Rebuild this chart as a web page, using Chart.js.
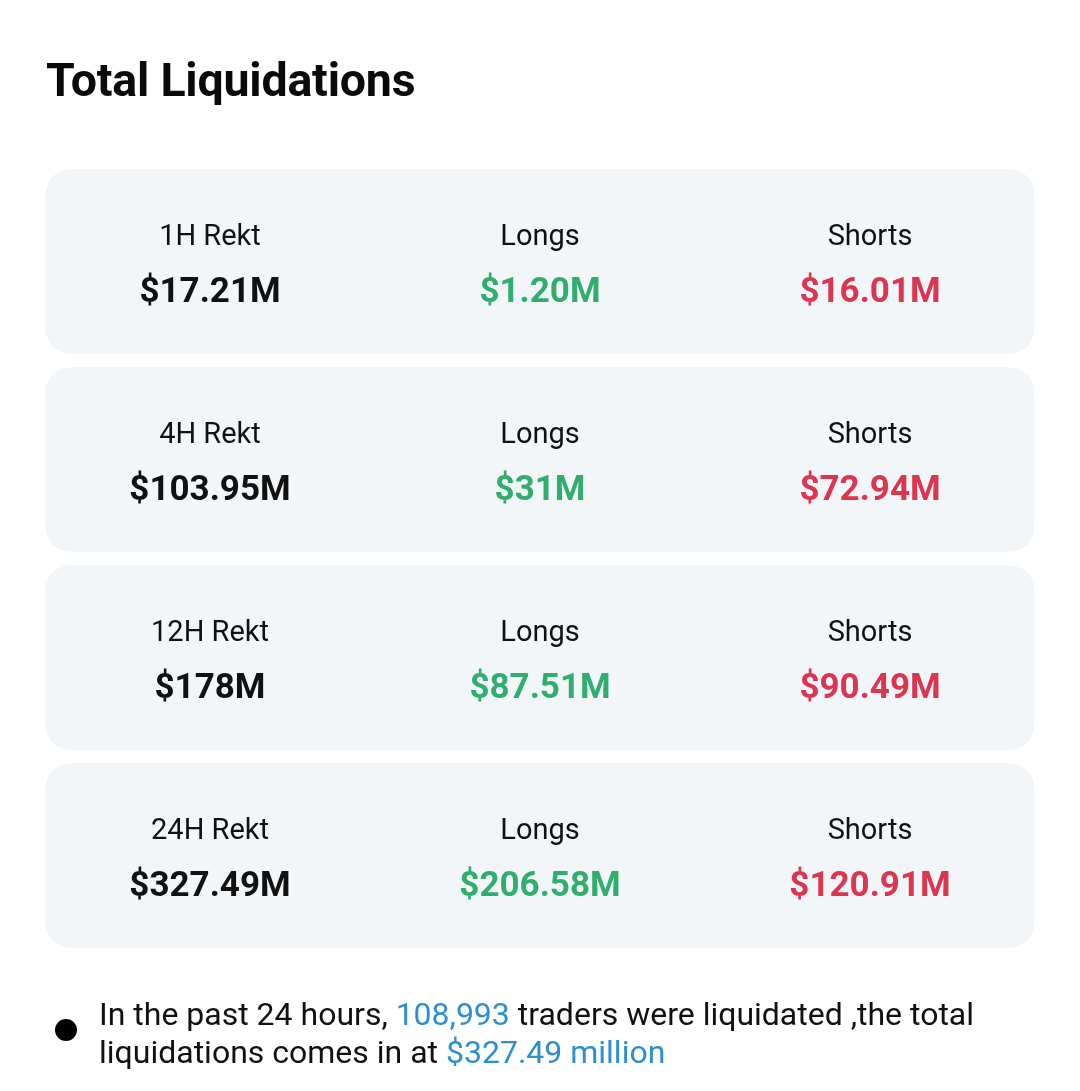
<!DOCTYPE html>
<html>
<head>
<meta charset="utf-8">
<script src="https://cdn.jsdelivr.net/npm/chart.js@4"></script>
<style>
  html,body{margin:0;padding:0;background:#fff;}
  #wrap{position:relative;width:1080px;height:1091px;overflow:hidden;font-family:Roboto,sans-serif;}
  #title{position:absolute;left:46px;top:52px;font-size:46.5px;font-weight:700;color:#0a0a0a;line-height:56px;margin:0;letter-spacing:-0.2px;}
  #foot{position:absolute;left:99px;top:995px;font-size:32px;line-height:38px;color:#111;width:960px;}
  #dot{position:absolute;left:55px;top:1019px;width:22px;height:22px;border-radius:50%;background:#000;}
  .hl{color:#2d8fcf;}
  canvas{position:absolute;left:0;top:0;}
</style>
</head>
<body>
<div id="wrap">
  <canvas id="c" width="1080" height="1091"></canvas>
  <h1 id="title">Total Liquidations</h1>
  <div id="dot"></div>
  <div id="foot">In the past 24 hours, <span class="hl">108,993</span> traders were liquidated ,the total liquidations comes in at <span class="hl">$327.49 million</span></div>
</div>
<script>
const periods = ["1H", "4H", "12H", "24H"];
const columns = ["Rekt", "Longs", "Shorts"];
const totals = ["$17.21M", "$103.95M", "$178M", "$327.49M"];
const longs  = ["$1.20M", "$31M", "$87.51M", "$206.58M"];
const shorts = ["$16.01M", "$72.94M", "$90.49M", "$120.91M"];

const colColors = ["#111111", "#2fae6d", "#dc3550"];

function roundRect(ctx, x, y, w, h, r) {
  ctx.beginPath();
  ctx.moveTo(x + r, y);
  ctx.lineTo(x + w - r, y);
  ctx.quadraticCurveTo(x + w, y, x + w, y + r);
  ctx.lineTo(x + w, y + h - r);
  ctx.quadraticCurveTo(x + w, y + h, x + w - r, y + h);
  ctx.lineTo(x + r, y + h);
  ctx.quadraticCurveTo(x, y + h, x, y + h - r);
  ctx.lineTo(x, y + r);
  ctx.quadraticCurveTo(x, y, x + r, y);
  ctx.closePath();
}

const cardPlugin = {
  id: 'cards',
  afterDatasetsDraw(chart) {
    const ctx = chart.ctx;
    const xs = chart.scales.x, ys = chart.scales.y;
    const area = chart.chartArea;
    const rowH = (area.bottom - area.top) / periods.length;
    const cardH = rowH - 13;
    periods.forEach((p, i) => {
      const cy = ys.getPixelForValue(i);
      ctx.save();
      ctx.fillStyle = '#f3f6f9';
      roundRect(ctx, area.left, cy - cardH / 2, area.right - area.left, cardH, 30);
      ctx.fill();
      ctx.restore();
      const vals = [totals[i], longs[i], shorts[i]];
      const labs = [p + " Rekt", "Longs", "Shorts"];
      columns.forEach((c, j) => {
        const cx = xs.getPixelForValue(j);
        ctx.save();
        ctx.textAlign = 'center';
        ctx.textBaseline = 'alphabetic';
        ctx.fillStyle = '#111111';
        ctx.font = '400 29px Roboto';
        ctx.fillText(labs[j], cx, cy - 16.5);
        ctx.fillStyle = colColors[j];
        ctx.font = '700 35px Roboto';
        ctx.fillText(vals[j], cx, cy + 40);
        ctx.restore();
      });
    });
  }
};

const datasets = periods.map((p, i) => ({
  label: p,
  data: columns.map((c) => ({ x: c, y: p })),
  pointRadius: 0,
  showLine: false
}));

new Chart(document.getElementById('c'), {
  type: 'line',
  data: { labels: columns, datasets },
  options: {
    responsive: false,
    animation: false,
    devicePixelRatio: 1,
    layout: { padding: { left: 45, right: 45, top: 162.5, bottom: 136.5 } },
    plugins: { legend: { display: false }, tooltip: { enabled: false }, title: { display: false } },
    scales: {
      x: { type: 'category', labels: columns, offset: true, display: false },
      y: { type: 'category', labels: periods, offset: true, display: false }
    }
  },
  plugins: [cardPlugin]
});
</script>
</body>
</html>
